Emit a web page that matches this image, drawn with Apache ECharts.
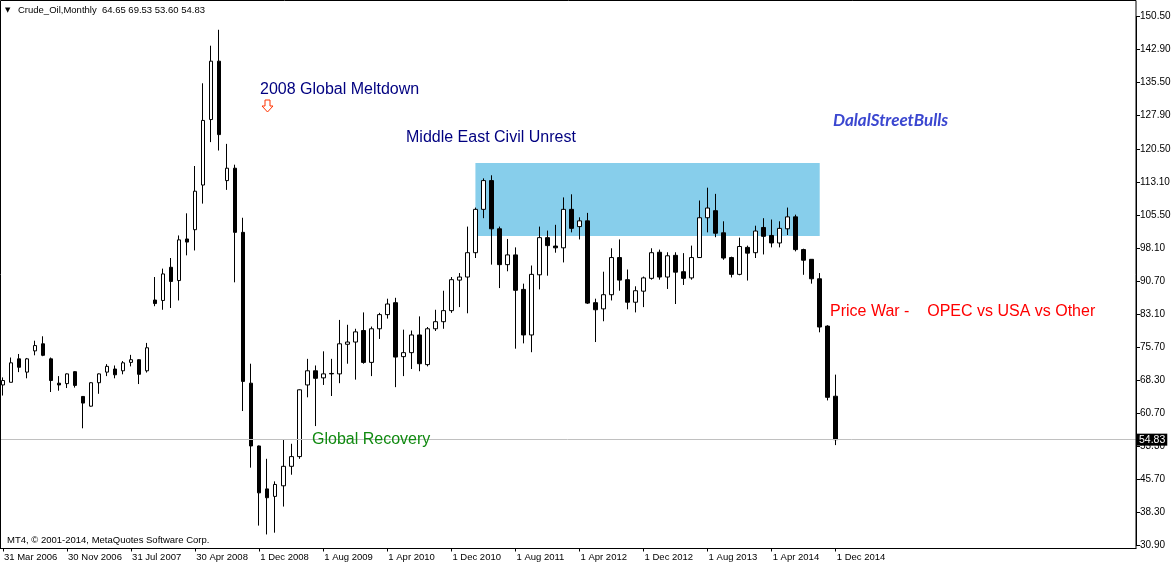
<!DOCTYPE html>
<html><head><meta charset="utf-8">
<script src="https://cdn.jsdelivr.net/npm/echarts@6/dist/echarts.min.js"></script>
<style>html,body{margin:0;padding:0;background:#fff}#c{width:1175px;height:567px}</style>
</head><body><div id="c"></div>
<script>
// ---- data ----
const categories = [
 '2006-03','2006-04','2006-05','2006-06','2006-07','2006-08','2006-09','2006-10','2006-11','2006-12',
 '2007-01','2007-02','2007-03','2007-04','2007-05','2007-06','2007-07','2007-08','2007-09','2007-11','2007-12',
 '2008-01','2008-02','2008-03','2008-04','2008-05','2008-06','2008-07','2008-08','2008-09','2008-10','2008-11','2008-12',
 '2009-01','2009-02','2009-03','2009-04','2009-05','2009-06','2009-07','2009-08','2009-09','2009-10','2009-11','2009-12',
 '2010-01','2010-02','2010-03','2010-04','2010-05','2010-06','2010-07','2010-08','2010-09','2010-10','2010-11','2010-12',
 '2011-01','2011-02','2011-03','2011-04','2011-05','2011-06','2011-07','2011-08','2011-09','2011-10','2011-11','2011-12',
 '2012-01','2012-02','2012-03','2012-04','2012-05','2012-06','2012-07','2012-08','2012-09','2012-10','2012-11','2012-12',
 '2013-01','2013-02','2013-03','2013-04','2013-05','2013-06','2013-07','2013-08','2013-09','2013-10','2013-11','2013-12',
 '2014-01','2014-02','2014-03','2014-04','2014-05','2014-06','2014-07','2014-08','2014-09','2014-10','2014-11','2014-12'
];
const openP = [
 67.2,67.8,73.1,70.1,74.9,76.5,73.1,67.6,67.5,70.2,
 64.6,62.4,67.7,70.1,70.8,70.4,72.3,72.9,70.4,86.4,86.3,
 93.8,90.8,100.2,102.3,112.4,127.2,140.4,113.4,116.2,101.7,67.6,53.4,
 43.7,42.0,44.4,48.8,51.0,67.2,70.4,68.8,69.8,69.7,76.4,76.9,
 79.5,72.3,79.9,83.1,85.8,73.6,74.5,78.5,71.8,79.9,81.5,84.0,
 90.9,91.6,97.1,106.9,113.4,102.5,94.4,96.6,88.8,78.5,92.1,100.5,
 98.6,98.2,106.9,103.0,104.3,85.8,84.4,87.6,96.0,91.0,85.9,88.4,
 91.3,97.2,91.6,96.5,92.8,91.4,96.0,105.0,106.6,101.6,96.0,92.2,
 98.3,97.1,102.8,101.0,99.3,102.5,105.2,97.8,95.6,91.2,80.5,64.65
];
const closeP = [
 68.2,72.2,71.2,73.1,76.1,73.9,68.2,67.2,69.7,67.1,
 63.1,67.7,69.7,71.4,69.5,72.2,72.9,69.6,75.6,85.6,92.3,
 90.6,100.0,99.5,111.0,127.0,140.4,123.8,116.2,101.7,68.0,53.4,42.8,
 41.7,44.7,48.8,51.0,66.1,70.4,68.7,69.7,69.7,76.5,76.9,79.2,
 72.3,79.9,83.1,85.5,73.5,74.5,78.5,72.0,79.9,81.5,84.0,91.0,
 91.6,97.1,106.9,113.4,102.5,94.4,96.6,88.6,78.5,92.2,100.5,98.7,
 98.2,106.9,102.6,104.3,85.7,84.2,87.6,96.0,90.9,85.9,88.5,91.4,
 97.1,91.6,96.4,92.7,91.3,96.0,105.0,107.2,101.5,95.9,92.2,98.5,
 97.0,102.0,100.8,99.3,102.6,105.2,97.8,95.4,91.2,80.3,64.4,54.83
];
const lowP = [
 64.8,67.8,70.1,68.7,73.9,73.7,65.6,65.9,66.5,66.6,
 57.4,62.3,65.2,69.2,68.7,69.6,71.4,67.4,70.0,85.0,84.2,
 84.6,86.3,96.5,97.6,108.2,122.1,120.2,111.3,90.4,61.3,48.5,35.4,
 33.4,33.8,39.7,46.9,50.5,64.4,57.9,67.2,64.7,67.6,72.0,68.4,
 72.0,69.2,77.6,82.2,66.7,69.2,70.8,70.3,71.4,79.4,79.9,83.5,
 84.8,83.4,95.9,104.9,94.4,89.1,92.9,75.4,76.6,74.6,88.8,91.9,
 97.1,94.9,101.7,100.1,85.5,76.9,81.6,86.3,88.5,84.3,83.6,84.8,
 91.0,91.0,88.9,85.5,89.8,91.0,95.9,101.7,100.6,95.5,91.5,92.0,
 90.8,95.9,96.7,98.3,98.3,101.1,97.4,92.1,90.1,79.1,63.7,53.60
];
const highP = [
 68.9,73.4,74.2,73.3,77.2,78.2,73.4,69.2,69.8,70.3,
 64.7,67.8,69.8,71.9,71.6,72.6,74.0,73.0,76.7,91.6,93.5,
 95.9,101.0,106.0,116.7,135.4,143.9,147.5,121.7,117.0,105.0,72.0,53.5,
 50.5,45.4,54.8,53.9,66.2,73.1,71.6,74.8,73.1,81.9,80.8,79.9,
 83.6,80.4,83.5,86.7,86.9,79.7,79.5,82.7,80.3,84.2,88.5,91.6,
 92.5,103.0,107.3,113.9,114.6,103.0,100.2,98.3,90.1,94.2,103.0,102.1,
 103.4,109.6,110.3,105.1,106.1,86.7,92.8,98.1,100.1,93.3,89.5,91.7,
 98.1,97.8,97.2,97.2,97.0,98.7,108.9,111.8,110.4,104.2,96.2,100.5,
 98.7,103.2,104.9,104.6,104.2,107.3,105.7,98.0,95.6,92.5,80.7,69.53
];
const xTickMonths = ['2006-03','2006-11','2007-07','2008-04','2008-12','2009-08','2010-04','2010-12','2011-08','2012-04','2012-12','2013-08','2014-04','2014-12'];
const xTickLabels = ['31 Mar 2006','30 Nov 2006','31 Jul 2007','30 Apr 2008','1 Dec 2008','1 Aug 2009','1 Apr 2010','1 Dec 2010','1 Aug 2011','1 Apr 2012','1 Dec 2012','1 Aug 2013','1 Apr 2014','1 Dec 2014'];
const yTickLabels = ['30.90','38.30','45.70','53.30','60.70','68.30','75.70','83.10','90.70','98.10','105.50','113.10','120.50','127.90','135.50','142.90','150.50'];
const zoneMonths = ['2011-03','2014-10'];
const zonePrices = [117.4, 100.9];
const lastClose = 54.83;

// ---- build ----
const candleData = categories.map((c,i)=>[openP[i],closeP[i],lowP[i],highP[i]]);
const slots = 142;
const xData = categories.concat(new Array(slots - categories.length).fill(''));
const tickIdx = new Set(xTickMonths.map(m=>categories.indexOf(m)));
const yVals = yTickLabels.map(parseFloat);
const yMin = yVals[0], yMax = yVals[yVals.length-1];
const yInt = (yMax - yMin)/(yVals.length-1);
const axisFont = 'Liberation Sans, Arial, sans-serif';

const chart = echarts.init(document.getElementById('c'), null, {renderer:'canvas'});
chart.setOption({
  animation:false,
  backgroundColor:'#fff',
  grid:{left:-1, width:1137, top:16.5, height:529, containLabel:false, outerBoundsMode:'none', show:false},
  xAxis:{
    type:'category', data:xData, boundaryGap:true, offset:3,
    axisLine:{show:true, lineStyle:{color:'#000', width:1}},
    axisTick:{show:true, alignWithLabel:true, length:3, interval:(i)=>tickIdx.has(i), lineStyle:{color:'#000'}},
    axisLabel:{show:true, interval:(i)=>tickIdx.has(i), align:'left', margin:4, padding:[0,0,0,1],
      color:'#000', fontSize:9.5, fontFamily:axisFont,
      formatter:(v)=>{const k=xTickMonths.indexOf(v);return k>=0?xTickLabels[k]:'';}},
    splitLine:{show:false}
  },
  yAxis:{
    type:'value', position:'right', min:yMin, max:yMax, interval:yInt, scale:true,
    axisLine:{show:true, lineStyle:{color:'#000', width:1}},
    axisTick:{show:true, length:4, lineStyle:{color:'#000'}},
    axisLabel:{show:true, margin:4, color:'#000', fontSize:10, fontFamily:axisFont,
      formatter:(v)=>{let b=0;for(let k=1;k<yVals.length;k++){if(Math.abs(yVals[k]-v)<Math.abs(yVals[b]-v))b=k;}return yTickLabels[b];}},
    splitLine:{show:false}
  },
  series:[{
    type:'candlestick', data:candleData, barWidth:4, z:2,
    itemStyle:{color:'#fff', color0:'#000', borderColor:'#000', borderColor0:'#000', borderWidth:1},
    markArea:{silent:true, itemStyle:{color:'#87ceeb', opacity:1},
      data:[[{xAxis:zoneMonths[0], yAxis:zonePrices[0]},{xAxis:zoneMonths[1], yAxis:zonePrices[1]}]]},
    markLine:{silent:true, symbol:['none','none'], animation:false,
      lineStyle:{color:'#c0c0c0', width:1, type:'solid'},
      label:{show:true, position:'end', distance:1, formatter:()=>lastClose.toFixed(2),
        color:'#fff', backgroundColor:'#000', padding:[1,2,0,2], fontSize:10.5, fontFamily:axisFont},
      data:[{yAxis:lastClose}]}
  }],
  graphic:[
    {type:'rect', z:100, shape:{x:0.5,y:0.5,width:1135.5,height:548}, style:{fill:'none', stroke:'#000', lineWidth:1}, silent:true},
    {type:'text', z:100, x:5, y:10, style:{text:'▼', font:'7px DejaVu Sans', fill:'#000', textVerticalAlign:'middle', verticalAlign:'middle'}},
    {type:'text', z:100, x:18, y:10, style:{text:'Crude_Oil,Monthly  64.65 69.53 53.60 54.83', font:'9.5px Liberation Sans', fill:'#000', textVerticalAlign:'middle', verticalAlign:'middle'}},
    {type:'text', z:100, x:7, y:540, style:{text:'MT4, © 2001-2014, MetaQuotes Software Corp.', font:'9.5px Liberation Sans', fill:'#000', textVerticalAlign:'middle', verticalAlign:'middle'}},
    {type:'text', z:100, x:260, y:90, style:{text:'2008 Global Meltdown', font:'16px Liberation Sans', fill:'#000080', textVerticalAlign:'middle', verticalAlign:'middle'}},
    {type:'polygon', z:100, shape:{points:[[265,100],[270,100],[270,106],[273,106],[267.5,112],[262,106],[265,106]]}, style:{fill:'#fff', stroke:'#ff3300', lineWidth:1}},
    {type:'text', z:100, x:406, y:137.5, style:{text:'Middle East Civil Unrest', font:'16px Liberation Sans', fill:'#000080', textVerticalAlign:'middle', verticalAlign:'middle'}},
    {type:'text', z:100, x:833, y:121, style:{text:'DalalStreetBulls', font:'italic bold 17px Lato', fill:'#3b47d0', textVerticalAlign:'middle', verticalAlign:'middle'}},
    {type:'text', z:100, x:830, y:312, style:{text:'Price War -    OPEC vs USA vs Other', font:'16px Liberation Sans', fill:'#ff0000', textVerticalAlign:'middle', verticalAlign:'middle'}},
    {type:'text', z:100, x:312, y:440, style:{text:'Global Recovery', font:'16px Liberation Sans', fill:'#108a10', textVerticalAlign:'middle', verticalAlign:'middle'}}
  ]
});
</script></body></html>
